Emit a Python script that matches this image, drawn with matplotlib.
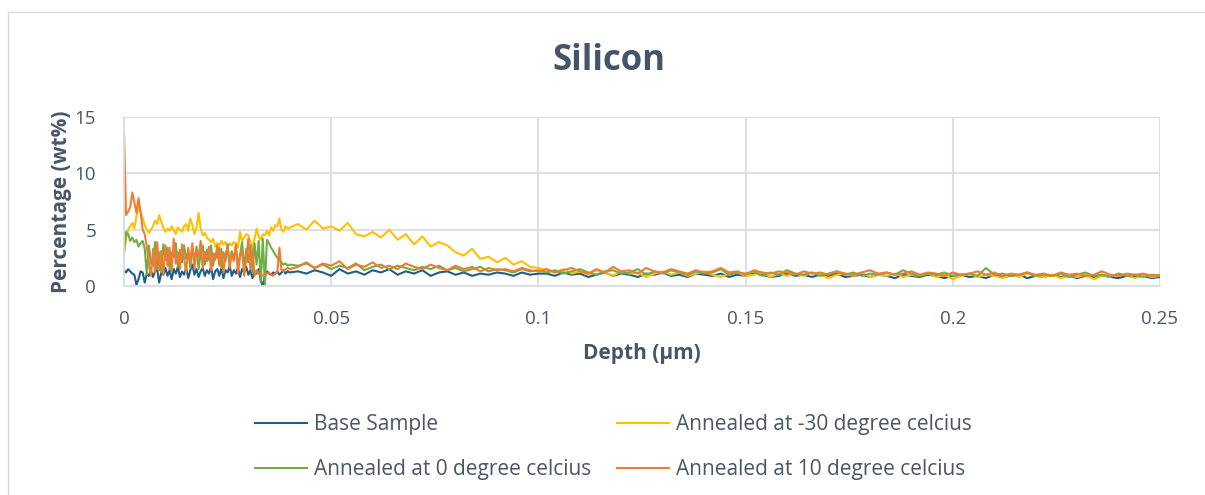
import numpy as np
import matplotlib
matplotlib.use("Agg")
import matplotlib.pyplot as plt
from matplotlib.lines import Line2D

# ---------------- data ----------------
depth_fine = np.round(np.arange(0, 0.04025, 0.0005), 5)      # 0 .. 0.040 (81 pts)
depth_coarse = np.round(np.arange(0.042, 0.2505, 0.002), 4)  # 0.042 .. 0.250 (105 pts)
depth = np.concatenate([depth_fine, depth_coarse])

series_names = ["Base Sample", "Annealed at -30 degree celcius",
                "Annealed at 0 degree celcius", "Annealed at 10 degree celcius"]

base_early = [1.4, 1.2, 1.5, 1.3, 1.1, 1.0, 0.1, 0.6, 1.3, 1.2,
              0.3, 1.1, 0.9, 1.4, 0.8, 1.3, 1.5, 0.3, 1.2, 1.0,
              1.6, 0.9, 1.4, 0.6, 1.5, 1.1, 1.7, 0.8, 1.3, 1.0,
              1.6, 0.7, 1.4, 1.9, 1.0, 1.5, 0.8, 1.3, 1.6, 0.9,
              1.4, 1.1, 1.7, 0.6, 1.3, 1.5, 0.9, 1.6, 0.7, 1.4,
              1.2, 1.8, 0.9, 1.4, 1.1, 1.6, 0.8, 1.5, 1.2, 1.7,
              1.0, 1.4, 0.7, 1.3, 1.1, 1.5, 0.5, 0.0, 0.9, 1.3,
              1.1, 1.0, 1.2, 1.1, 1.3, 1.0, 1.2, 1.4, 1.1, 1.3, 1.2]
base_late = [1.3, 1.1, 1.4, 1.2, 0.9, 1.5, 1.1, 1.3, 1.0, 1.4, 1.2, 1.5, 1.0, 1.3, 1.1,
             1.4, 0.9, 1.2, 1.3, 1.0, 1.2, 0.9, 1.1, 1.0, 1.2, 1.1, 0.9, 1.2, 1.0, 1.1,
             1.1, 0.9, 1.2, 1.0, 1.1, 0.8, 1.0, 1.2, 0.9, 1.1, 1.0, 0.8, 1.1, 1.0, 1.2,
             0.9, 1.0, 0.8, 1.1, 1.0, 0.9, 1.1, 0.8, 1.0, 0.9, 1.1, 1.0, 0.8, 0.9, 1.1,
             0.9, 1.0, 0.8, 1.0, 0.9, 1.1, 0.8, 0.9, 1.0, 0.8, 1.0, 0.9, 0.7, 1.0, 0.9,
             0.8, 1.0, 0.9, 0.7, 0.9, 1.0, 0.8, 0.9, 0.7, 1.0, 0.8, 0.9, 1.0, 0.7, 0.9,
             0.8, 1.0, 0.8, 0.9, 0.7, 0.9, 0.8, 1.0, 0.8, 0.7, 0.9, 0.8, 0.9, 0.7, 0.8]

m30_early = [2.9, 4.2, 5.0, 5.3, 5.6, 5.1, 6.2, 7.0, 6.6, 6.0,
             5.4, 5.0, 4.7, 5.0, 5.3, 5.8, 5.5, 6.3, 5.7, 5.2,
             4.8, 5.1, 4.9, 5.3, 5.0, 4.6, 5.2, 5.0, 4.8, 5.3,
             5.5, 4.9, 6.0, 5.4, 4.6, 5.2, 6.5, 5.1, 4.5, 4.7,
             4.3, 4.1, 3.9, 4.2, 3.5, 3.8, 3.6, 4.0, 3.7, 3.9,
             3.4, 3.8, 3.6, 3.9, 3.8, 3.4, 4.8, 4.0, 4.3, 4.6,
             4.5, 3.9, 3.4, 4.2, 5.1, 4.4, 4.1, 4.6, 4.5, 4.9,
             4.5, 5.2, 4.9, 5.4, 5.3, 6.0, 5.0, 4.8, 5.3, 5.1, 5.2]
m30_late = [5.5, 5.0, 5.8, 5.1, 5.3, 4.9, 5.6, 4.6, 4.4, 4.8, 4.3, 5.0, 4.1, 4.6, 3.7,
            4.4, 3.5, 3.9, 3.6, 3.0, 2.7, 3.3, 2.4, 2.6, 2.1, 2.5, 1.9, 2.2, 1.7, 1.6,
            1.4, 1.2, 1.5, 1.1, 1.3, 1.0, 1.4, 1.2, 0.9, 1.3, 1.1, 1.2, 0.8, 1.1, 1.3,
            1.0, 1.2, 0.9, 1.1, 1.3, 1.0, 0.8, 1.1, 1.2, 0.9, 1.0, 1.2, 0.8, 1.1, 0.9,
            1.1, 0.9, 1.2, 1.0, 0.7, 1.0, 1.1, 0.9, 1.2, 0.8, 1.0, 0.9, 1.1, 0.8, 1.0,
            0.9, 1.1, 0.8, 1.0, 0.6, 0.9, 1.1, 0.8, 1.0, 0.9, 0.7, 1.0, 0.8, 1.1, 0.9,
            0.8, 1.0, 0.7, 0.9, 0.8, 1.0, 0.6, 0.9, 0.8, 1.1, 0.9, 0.7, 1.0, 0.8, 0.9]

c0_early = [3.0, 4.8, 4.6, 4.0, 4.3, 3.9, 4.1, 3.5, 3.8, 4.0,
            3.3, 1.0, 3.6, 2.0, 1.8, 3.9, 1.5, 3.0, 1.2, 3.7,
            2.3, 3.4, 1.5, 3.0, 2.6, 3.8, 1.7, 3.2, 2.1, 3.6,
            2.4, 3.0, 1.6, 3.4, 2.2, 3.5, 1.5, 2.9, 3.6, 1.9,
            3.2, 2.3, 3.6, 1.8, 2.9, 2.5, 3.4, 1.6, 3.0, 2.2,
            3.7, 1.9, 3.1, 2.4, 3.5, 1.7, 2.8, 3.9, 1.4, 3.3,
            2.1, 3.6, 1.2, 3.8, 1.9, 4.0, 0.3, 4.2, 0.0, 4.1,
            3.8, 3.4, 3.1, 2.8, 2.5, 2.3, 2.1, 1.9, 2.0, 1.8, 1.9]
c0_late = [1.8, 2.0, 1.6, 1.9, 1.5, 1.8, 1.6, 2.0, 1.4, 1.7, 1.9, 1.5, 1.8, 1.6, 1.4,
           1.7, 1.5, 1.8, 1.4, 1.6, 1.3, 1.5, 1.7, 1.3, 1.5, 1.4, 1.2, 1.5, 1.3, 1.4,
           1.2, 1.4, 1.1, 1.3, 1.5, 1.2, 1.0, 1.3, 1.4, 1.1, 1.2, 1.5, 1.0, 1.3, 1.1,
           1.4, 1.2, 1.0, 1.3, 1.1, 1.2, 1.5, 1.0, 1.2, 1.1, 1.3, 0.9, 1.2, 1.0, 1.4,
           1.1, 1.0, 1.2, 0.9, 1.1, 1.3, 1.0, 1.2, 0.9, 1.1, 1.0, 1.2, 1.0, 1.4, 1.1,
           0.9, 1.1, 1.0, 1.2, 0.9, 1.0, 1.1, 0.9, 1.6, 1.0, 1.1, 0.9, 1.0, 1.2, 0.9,
           1.0, 0.9, 1.1, 0.8, 1.0, 1.2, 0.9, 1.0, 0.8, 1.1, 0.9, 1.0, 0.8, 1.0, 0.9]

c10_early = [13.7, 6.3, 6.6, 7.0, 8.3, 7.4, 6.5, 7.8, 6.6, 5.0,
             4.6, 3.5, 2.0, 0.9, 3.3, 1.2, 3.9, 1.4, 3.1, 1.0,
             3.6, 1.8, 3.4, 1.3, 4.2, 2.0, 3.0, 1.5, 3.7, 2.4,
             1.2, 3.4, 2.1, 3.8, 1.5, 3.2, 2.6, 4.0, 1.6, 3.0,
             2.2, 3.5, 1.4, 2.9, 2.3, 3.6, 1.8, 3.3, 1.2, 2.8,
             3.4, 1.6, 3.0, 2.2, 3.7, 1.1, 2.6, 3.2, 0.9, 2.4,
             4.2, 1.5, 3.3, 0.9, 1.4, 1.1, 1.0, 0.9, 1.0, 1.1,
             1.2, 1.0, 0.9, 1.1, 1.2, 3.4, 1.4, 1.3, 1.5, 1.6, 1.5]
c10_late = [1.7, 2.1, 1.6, 2.0, 1.8, 2.2, 1.5, 1.9, 1.7, 2.1, 1.6, 1.8, 1.5, 2.0, 1.7,
            1.5, 1.9, 1.6, 1.4, 1.8, 1.5, 1.7, 1.3, 1.6, 1.4, 1.5, 1.3, 1.6, 1.4, 1.3,
            1.5, 1.2, 1.4, 1.6, 1.3, 1.1, 1.5, 1.2, 1.7, 1.3, 1.4, 1.1, 1.6, 1.3, 1.2,
            1.5, 1.3, 1.1, 1.4, 1.2, 1.3, 1.6, 1.2, 1.3, 1.0, 1.4, 1.2, 1.1, 1.3, 1.2,
            1.0, 1.3, 1.1, 1.2, 1.0, 1.3, 1.1, 1.0, 1.2, 1.4, 1.1, 1.2, 1.0, 1.1, 1.3,
            1.0, 1.2, 1.1, 0.9, 1.2, 1.0, 1.1, 1.3, 1.0, 1.2, 0.9, 1.1, 1.0, 1.2, 1.0,
            1.1, 0.9, 1.2, 1.0, 1.1, 0.9, 1.0, 1.3, 1.0, 0.9, 1.1, 1.0, 1.1, 0.9, 1.0]

x_ticks = [0, 0.05, 0.1, 0.15, 0.2, 0.25]
x_tick_labels = ["0", "0.05", "0.1", "0.15", "0.2", "0.25"]
y_ticks = [0, 5, 10, 15]

colors = ["#1F5F87", "#FFC000", "#70AD47", "#ED7D31"]
text_col = "#4A5568"

# ---------------- figure ----------------
plt.rcParams['font.family'] = ['Open Sans', 'DejaVu Sans']
fig = plt.figure(figsize=(12.05, 4.95), dpi=100)

# outer chart border (light gray)
fig.add_artist(Line2D([8/1205, 8/1205], [0, 1-12/495], transform=fig.transFigure,
                      color="#D9D9D9", lw=1))
fig.add_artist(Line2D([8/1205, 1], [1-12/495, 1-12/495], transform=fig.transFigure,
                      color="#D9D9D9", lw=1))

ax = fig.add_axes([124/1205, 1-286/495, (1160-124)/1205, (286-117)/495])

series = [base_early + base_late, m30_early + m30_late,
          c0_early + c0_late, c10_early + c10_late]
handles = []
for name, vals, col in zip(series_names, series, colors):
    h, = ax.plot(depth, vals, color=col, lw=1.5, label=name, solid_joinstyle="round")
    handles.append(h)

ax.set_xlim(0, 0.25)
ax.set_ylim(0, 15)
ax.set_xticks(x_ticks)
ax.set_xticklabels(x_tick_labels)
ax.set_yticks(y_ticks)
ax.grid(True, color="#D9DDE3", lw=1.3)
ax.set_axisbelow(True)
for s in ["top", "right"]:
    ax.spines[s].set_visible(False)
ax.spines["left"].set_color("#D9DDE3")
ax.spines["bottom"].set_color("#D9DDE3")
ax.spines["left"].set_linewidth(1.3)
ax.spines["bottom"].set_linewidth(1.3)
ax.tick_params(axis="x", length=0, labelsize=13.5, colors=text_col, pad=17)
ax.tick_params(axis="y", length=0, labelsize=13.5, colors=text_col, pad=20)

ax.set_xlabel("Depth (µm)", fontsize=15, fontweight="bold", color=text_col, labelpad=11)
ax.set_ylabel("Percentage (wt%)", fontsize=15, fontweight="bold", color=text_col, labelpad=2)

fig.text(0.505, 1-61/495, "Silicon", ha="center", va="center", fontsize=25,
         fontweight="bold", color="#44546A")

# row-major order like the reference: Base, -30 / 0, 10
order = [0, 2, 1, 3]
leg = fig.legend([handles[i] for i in order], [series_names[i] for i in order],
                 loc="center", bbox_to_anchor=(0.509, 1-447/495), ncol=2, frameon=False,
                 fontsize=15, handlelength=2.5, columnspacing=1.2, labelspacing=1.15,
                 handletextpad=0.35)
for t in leg.get_texts():
    t.set_color(text_col)

fig.savefig("out.png", dpi=100)
